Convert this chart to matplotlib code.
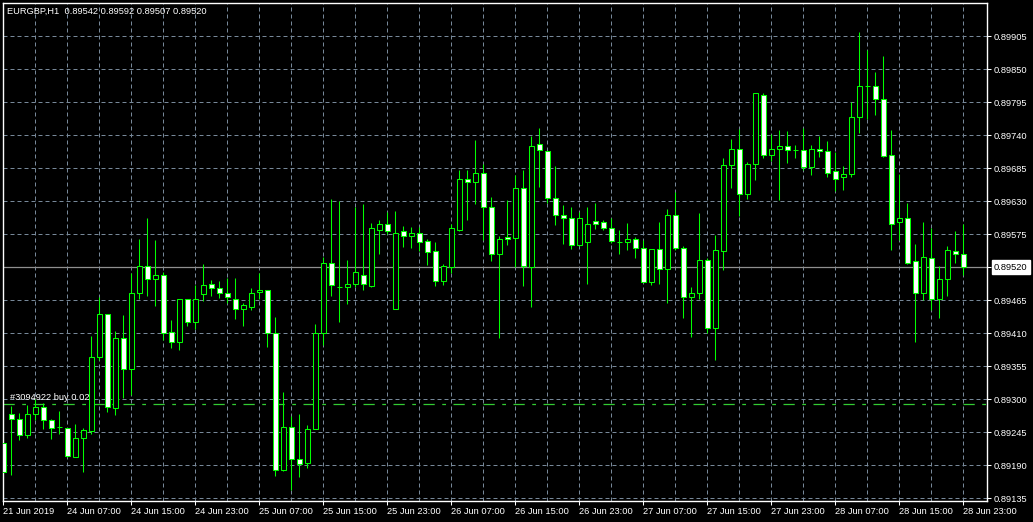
import matplotlib
matplotlib.use("Agg")
import matplotlib.pyplot as plt
import numpy as np

# EURGBP H1 candles, 21 Jun 2019 23:00 .. 28 Jun 23:00 (prices in points, 1e-5)
opens = [89227, 89275, 89268, 89240, 89275, 89288, 89265, 89254, 89252, 89204,
         89236, 89248, 89370, 89443, 89285, 89402, 89350, 89478, 89523, 89500,
         89508, 89412, 89396, 89467, 89429, 89476, 89492, 89486, 89477, 89468,
         89450, 89454, 89479, 89482, 89410, 89182, 89254, 89200, 89194, 89250,
         89411, 89527, 89487, 89487, 89493, 89508, 89489, 89583, 89592, 89450,
         89580, 89573, 89577, 89564, 89547, 89498, 89520, 89583, 89667, 89663,
         89678, 89621, 89543, 89570, 89569, 89652, 89521, 89725, 89714, 89635,
         89608, 89603, 89557, 89563, 89597, 89595, 89585, 89563, 89563, 89568,
         89552, 89496, 89550, 89517, 89608, 89552, 89471, 89477, 89532, 89419,
         89548, 89690, 89717, 89643, 89693, 89808, 89708, 89718, 89723, 89715,
         89715, 89687, 89718, 89714, 89680, 89670, 89675, 89770, 89822, 89822,
         89800, 89707, 89595, 89603, 89530, 89477, 89535, 89467, 89500, 89547,
         89542]
highs = [89245, 89289, 89278, 89290, 89300, 89294, 89268, 89280, 89252, 89259,
         89253, 89405, 89471, 89443, 89414, 89440, 89510, 89568, 89603, 89566,
         89513, 89432, 89468, 89468, 89491, 89526, 89499, 89497, 89502, 89503,
         89460, 89485, 89511, 89483, 89437, 89312, 89272, 89276, 89257, 89426,
         89538, 89634, 89630, 89532, 89621, 89625, 89594, 89599, 89612, 89614,
         89589, 89588, 89588, 89567, 89562, 89526, 89592, 89682, 89683, 89732,
         89693, 89637, 89572, 89633, 89674, 89682, 89739, 89753, 89714, 89689,
         89624, 89620, 89613, 89620, 89627, 89599, 89603, 89583, 89594, 89571,
         89566, 89550, 89596, 89617, 89646, 89556, 89488, 89610, 89535, 89574,
         89702, 89734, 89750, 89695, 89810, 89810, 89743, 89749, 89747, 89724,
         89752, 89724, 89739, 89730, 89712, 89689, 89795, 89912, 89882, 89846,
         89873, 89749, 89676, 89628, 89559, 89596, 89585, 89522, 89556, 89580,
         89592]
lows = [89179, 89174, 89233, 89236, 89266, 89250, 89234, 89243, 89204, 89204,
        89179, 89243, 89365, 89279, 89274, 89303, 89308, 89467, 89473, 89456,
        89399, 89386, 89382, 89422, 89418, 89464, 89472, 89469, 89460, 89434,
        89423, 89449, 89467, 89388, 89172, 89181, 89149, 89171, 89185, 89250,
        89390, 89472, 89429, 89459, 89488, 89482, 89488, 89542, 89575, 89450,
        89554, 89552, 89548, 89524, 89489, 89491, 89510, 89581, 89599, 89626,
        89566, 89531, 89402, 89557, 89521, 89489, 89454, 89654, 89628, 89590,
        89559, 89551, 89556, 89493, 89584, 89582, 89560, 89543, 89549, 89536,
        89496, 89490, 89492, 89461, 89549, 89435, 89404, 89468, 89410, 89366,
        89516, 89653, 89606, 89634, 89666, 89703, 89698, 89632, 89694, 89703,
        89683, 89674, 89704, 89671, 89648, 89649, 89671, 89744, 89767, 89774,
        89704, 89549, 89566, 89526, 89396, 89466, 89449, 89435, 89472, 89527,
        89507]
closes = [89179, 89268, 89240, 89275, 89288, 89265, 89253, 89254, 89206, 89235,
          89249, 89370, 89443, 89287, 89402, 89350, 89478, 89523, 89500, 89508,
          89410, 89396, 89467, 89429, 89467, 89490, 89486, 89477, 89470, 89450,
          89457, 89478, 89483, 89410, 89182, 89254, 89200, 89193, 89250, 89411,
          89527, 89490, 89487, 89493, 89512, 89492, 89585, 89592, 89581, 89578,
          89573, 89578, 89563, 89546, 89498, 89522, 89585, 89668, 89663, 89678,
          89621, 89543, 89567, 89567, 89652, 89523, 89723, 89716, 89635, 89608,
          89603, 89557, 89603, 89592, 89593, 89585, 89564, 89563, 89568, 89552,
          89496, 89550, 89517, 89608, 89552, 89471, 89477, 89532, 89419, 89548,
          89690, 89717, 89643, 89693, 89810, 89708, 89718, 89723, 89716, 89715,
          89687, 89718, 89714, 89678, 89668, 89675, 89770, 89822, 89822, 89800,
          89706, 89593, 89603, 89528, 89477, 89537, 89467, 89501, 89549, 89542,
          89520]

time_labels = ["21 Jun 2019", "24 Jun 07:00", "24 Jun 15:00", "24 Jun 23:00",
               "25 Jun 07:00", "25 Jun 15:00", "25 Jun 23:00", "26 Jun 07:00",
               "26 Jun 15:00", "26 Jun 23:00", "27 Jun 07:00", "27 Jun 15:00",
               "27 Jun 23:00", "28 Jun 07:00", "28 Jun 15:00", "28 Jun 23:00"]
price_levels = [0.89135 + 0.00055 * k for k in range(15)]
bid = 0.89520
trade_price = 0.89293
trade_text = "#3094922 buy 0.02"
header = "EURGBP,H1  0.89542 0.89592 0.89507 0.89520"

o = np.array(opens) / 1e5
h = np.array(highs) / 1e5
l = np.array(lows) / 1e5
c = np.array(closes) / 1e5
x = np.arange(len(o))

plt.rcParams["font.family"] = ["Liberation Sans", "DejaVu Sans"]
FS = 6.7
LIME = "#00ff00"
GRID = "#778899"

fig = plt.figure(figsize=(10.33, 5.22), dpi=100, facecolor="black")
W, H = 1033, 522
ax = fig.add_axes([2.5 / W, (H - 501) / H, (987 - 2.5) / W, (501 - 2.5) / H])
ax.set_facecolor("black")

ax.set_xlim(-0.1, 122.96)
ax.set_ylim(0.899655 - 501 / 60000, 0.899655 - 2.5 / 60000)

# grid
for p in price_levels:
    ax.axhline(p, color=GRID, lw=0.72, ls=(0, (4, 3)), zorder=0)
for i in range(4, len(x), 4):
    ax.axvline(i, color=GRID, lw=0.72, ls=(0, (4, 3)), zorder=0)

# bid line and trade line
ax.axhline(bid, color="#8f8f8f", lw=0.9, zorder=1)
ax.axhline(trade_price, color="#33cc33", lw=0.9, ls=(0, (9, 6, 3, 6)), zorder=1)
ax.text(0.8, trade_price + 0.00003, trade_text, color="white", fontsize=FS,
        va="bottom", ha="left", zorder=4)

# candles
ax.vlines(x, l, h, color=LIME, lw=0.75, zorder=2)
bear = c < o
fills = np.where(bear, "white", "black")
ax.bar(x, np.abs(c - o), bottom=np.minimum(o, c), width=0.55, color=fills,
       edgecolor=LIME, linewidth=0.75, zorder=3)

# axes styling
for s in ax.spines.values():
    s.set_color("white")
    s.set_linewidth(1.0)

ax.yaxis.tick_right()
ax.set_yticks(price_levels)
ax.set_yticklabels(["%.5f" % p for p in price_levels])
ax.set_xticks(np.arange(0, len(x), 8))
ax.set_xticklabels(time_labels)
for t in ax.get_xticklabels():
    t.set_ha("left")
ax.tick_params(colors="white", labelsize=FS, length=3, width=0.75, pad=1.5)
ax.tick_params(axis="y", pad=2)

ax.annotate("0.89520", xy=(1, bid), xycoords=("axes fraction", "data"),
            xytext=(5, 0), textcoords="offset points", va="center", ha="left",
            fontsize=FS, color="black", annotation_clip=False, zorder=10,
            bbox=dict(boxstyle="square,pad=0.25", facecolor="white", edgecolor="white"))

fig.text(7 / W, 1 - 11 / H, header, color="white", fontsize=FS, va="center", ha="left")

fig.savefig("out.png", dpi=100, facecolor="black")
